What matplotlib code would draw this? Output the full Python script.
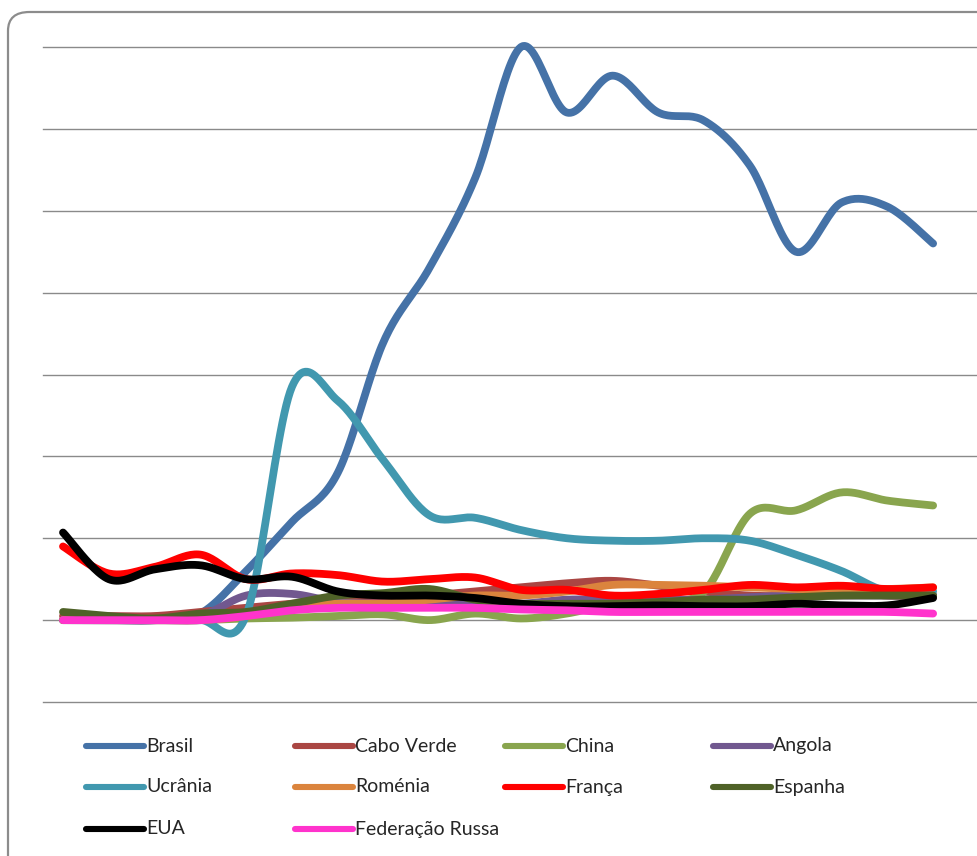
import numpy as np
import matplotlib
matplotlib.use("Agg")
import matplotlib.pyplot as plt
from matplotlib.patches import FancyBboxPatch
from matplotlib.lines import Line2D

plt.rcParams['font.family'] = ['Lato', 'DejaVu Sans']

# 20 yearly points (one grid step = 1 unit)
countries = ['Brasil', 'Cabo Verde', 'China', 'Angola', 'Ucrânia',
             'Roménia', 'França', 'Espanha', 'EUA', 'Federação Russa']

brasil = [0, 0, 0, 0.08, 0.6, 1.2, 1.8, 3.4, 4.3, 5.4,
          7.0, 6.2, 6.65, 6.2, 6.1, 5.55, 4.5, 5.1, 5.05, 4.6]
cabo_verde = [0.05, 0.05, 0.05, 0.1, 0.15, 0.2, 0.25, 0.25, 0.3, 0.35,
              0.4, 0.45, 0.48, 0.42, 0.35, 0.3, 0.3, 0.35, 0.3, 0.3]
china = [0, 0, 0, 0, 0.02, 0.03, 0.05, 0.07, 0.0, 0.08,
         0.02, 0.08, 0.2, 0.25, 0.35, 1.3, 1.34, 1.56, 1.46, 1.4]
angola = [0, 0, 0, 0.05, 0.3, 0.32, 0.22, 0.2, 0.2, 0.2,
          0.2, 0.25, 0.25, 0.25, 0.25, 0.28, 0.3, 0.3, 0.3, 0.3]
ucrania = [0, 0, 0, 0, 0.06, 2.85, 2.68, 1.95, 1.28, 1.25,
           1.1, 1.0, 0.97, 0.97, 1.0, 0.97, 0.8, 0.6, 0.35, 0.35]
romenia = [0, 0, 0, 0, 0.05, 0.15, 0.2, 0.2, 0.25, 0.3,
           0.3, 0.35, 0.43, 0.43, 0.42, 0.4, 0.38, 0.38, 0.38, 0.4]
franca = [0.9, 0.57, 0.65, 0.8, 0.5, 0.57, 0.55, 0.47, 0.5, 0.52,
          0.37, 0.37, 0.3, 0.32, 0.37, 0.43, 0.4, 0.42, 0.38, 0.4]
espanha = [0.1, 0.05, 0.02, 0.08, 0.1, 0.2, 0.3, 0.33, 0.38, 0.25,
           0.2, 0.2, 0.2, 0.22, 0.25, 0.25, 0.28, 0.3, 0.3, 0.3]
eua = [1.07, 0.5, 0.62, 0.67, 0.5, 0.53, 0.35, 0.3, 0.3, 0.27,
       0.2, 0.17, 0.17, 0.18, 0.17, 0.17, 0.2, 0.18, 0.18, 0.27]
russia = [0, 0, 0, 0, 0.05, 0.12, 0.15, 0.15, 0.15, 0.15,
          0.13, 0.12, 0.1, 0.1, 0.1, 0.1, 0.1, 0.1, 0.1, 0.08]

series = [brasil, cabo_verde, china, angola, ucrania,
          romenia, franca, espanha, eua, russia]
colors = ['#4572A7', '#AA4643', '#89A54E', '#71588F', '#4198AF',
          '#DB843D', '#FF0000', '#4F6228', '#000000', '#FF33CC']


def smooth(x, y, n=24):
    # excel-style smoothed line: bezier through points, catmull-rom handles
    pts = np.column_stack([x, y]).astype(float)
    pad = np.vstack([pts[0], pts, pts[-1]])
    xs, ys = [], []
    for i in range(len(pts) - 1):
        p0, p1, p2, p3 = pad[i], pad[i + 1], pad[i + 2], pad[i + 3]
        c1 = p1 + (p2 - p0) / 6
        c2 = p2 - (p3 - p1) / 6
        t = np.linspace(0, 1, n, endpoint=(i == len(pts) - 2))[:, None]
        b = ((1 - t) ** 3) * p1 + 3 * ((1 - t) ** 2) * t * c1 \
            + 3 * (1 - t) * t ** 2 * c2 + t ** 3 * p2
        xs.append(b[:, 0])
        ys.append(b[:, 1])
    return np.concatenate(xs), np.concatenate(ys)


W, H = 978, 856
fig = plt.figure(figsize=(W / 100, H / 100), dpi=100)

# rounded chart frame, running off the right and bottom edges
frame = FancyBboxPatch((8 / W, -0.2), 1.2, 1.2 - 12 / H,
                       boxstyle="round,pad=0,rounding_size=0.022",
                       transform=fig.transFigure, facecolor='white',
                       edgecolor='#8C8C8C', linewidth=1.6, zorder=0)
fig.patches.append(frame)

ax = fig.add_axes([43 / W, 1 - 702 / H, (W - 43) / W, (702 - 47) / H])
ax.set_zorder(2)
ax.set_facecolor('none')
x = np.arange(len(brasil))
ax.set_xlim(-0.437, 19.98)
ax.set_ylim(-1, 7)
for v in range(-1, 8):
    ax.axhline(v, color='#8A8A8A', linewidth=1.0, zorder=1, clip_on=False)
for s in ax.spines.values():
    s.set_visible(False)
ax.set_xticks([])
ax.set_yticks([])

for k, (vals, col) in enumerate(zip(series, colors)):
    sx, sy = smooth(x, vals)
    ax.plot(sx, sy, color=col, linewidth=5.6, solid_capstyle='round',
            solid_joinstyle='round', zorder=2 + k, clip_on=False)

# legend, row by row like the spreadsheet
col_x = [86, 295, 505, 713]
row_y = [746, 787, 829]
for k, (name, col) in enumerate(zip(countries, colors)):
    r, c = divmod(k, 4)
    x0 = col_x[c]
    y0 = 1 - row_y[r] / H
    fig.add_artist(Line2D([x0 / W, (x0 + 58) / W], [y0, y0],
                          transform=fig.transFigure, color=col,
                          linewidth=4.4, solid_capstyle='round', zorder=3))
    fig.text((x0 + 60) / W, y0, name, fontsize=14, color='#262626',
             va='center', ha='left', zorder=3)

fig.savefig('out.png', dpi=100)
